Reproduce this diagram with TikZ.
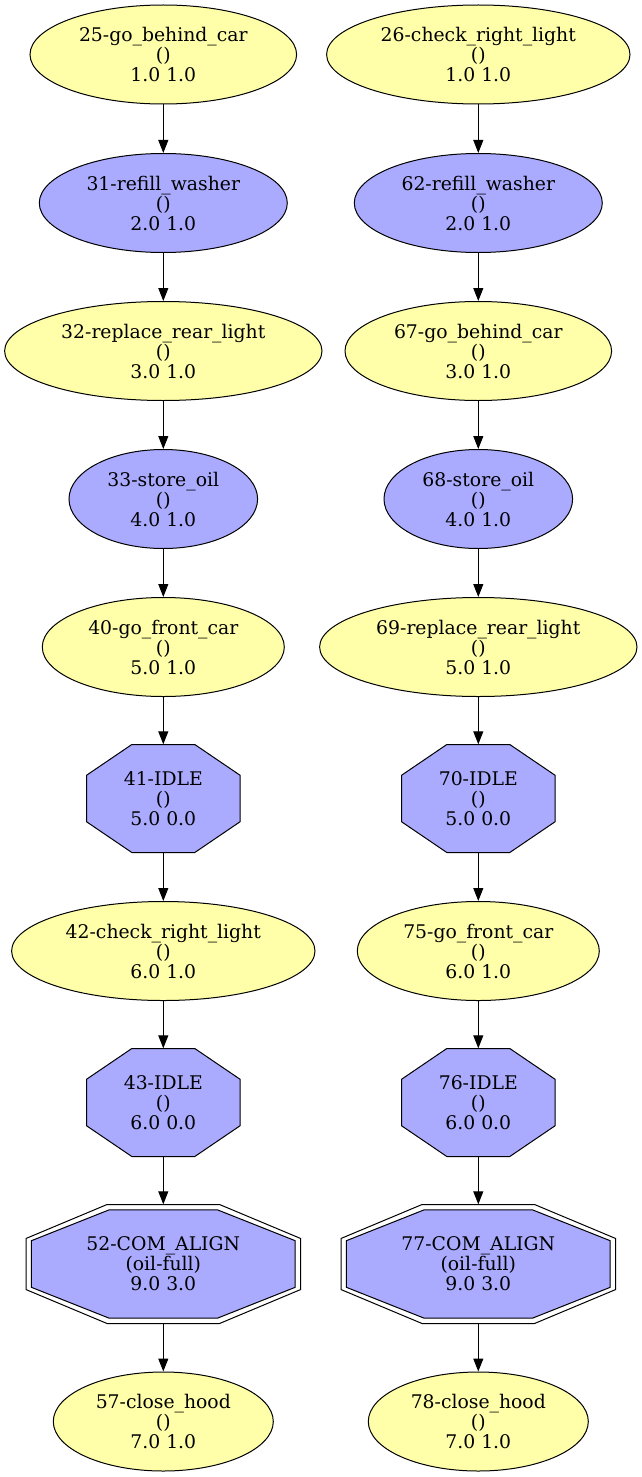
\documentclass[tikz,border=0pt]{standalone}
\usepackage{fontspec}
\setmainfont{DejaVu Serif}
\usetikzlibrary{shapes.geometric,arrows.meta}

\definecolor{actyellow}{HTML}{FFFFAA}
\definecolor{actblue}{HTML}{AAAAFF}

% octagon drawn at a centre: [style]{x,y}{half width}{half height}
\newcommand{\octshape}[4][]{%
  \draw[#1,shift={(#2)}] (-0.41*#3,-#4) -- (0.41*#3,-#4) -- (#3,-0.43*#4) -- (#3,0.43*#4)
    -- (0.41*#3,#4) -- (-0.41*#3,#4) -- (-#3,0.43*#4) -- (-#3,-0.43*#4) -- cycle;}

\tikzset{
  lbl/.style={inner sep=0pt,align=center,font=\fontsize{18.8}{20}\selectfont},
  act/.style={lbl,ellipse,draw,line width=1pt,minimum height=99pt},
  yact/.style={act,fill=actyellow},
  bact/.style={act,fill=actblue},
  octline/.style={line width=1pt},
  trans/.style={-{Triangle[length=13pt,width=10pt]},line width=1pt},
}

\begin{document}
\begin{tikzpicture}[x=1pt,y=-1pt]
\useasboundingbox (0,0) rectangle (642,1477);

% left column
\node[yact,minimum width=266.6pt] (n25) at (163.3,54.5) {25-go\_behind\_car\\()\\1.0 1.0};
\node[bact,minimum width=248pt] (n31) at (163.3,203) {31-refill\_washer\\()\\2.0 1.0};
\node[yact,minimum width=317.4pt] (n32) at (163.3,351) {32-replace\_rear\_light\\()\\3.0 1.0};
\node[bact,minimum width=188.6pt] (n33) at (163.3,499) {33-store\_oil\\()\\4.0 1.0};
\node[yact,minimum width=242pt] (n40) at (163.3,647) {40-go\_front\_car\\()\\5.0 1.0};
\octshape[octline,fill=actblue]{163.3,798.5}{76.8}{54}
\node[lbl,minimum width=153.6pt,minimum height=108pt] (n41) at (163.3,798.5) {41-IDLE\\()\\5.0 0.0};
\node[yact,minimum width=303.4pt] (n42) at (163.3,951) {42-check\_right\_light\\()\\6.0 1.0};
\octshape[octline,fill=actblue]{163.3,1102.5}{76.8}{54}
\node[lbl,minimum width=153.6pt,minimum height=108pt] (n43) at (163.3,1102.5) {43-IDLE\\()\\6.0 0.0};
\octshape[octline,fill=white]{163.3,1264}{137.2}{59.5}
\octshape[octline,fill=actblue]{163.3,1264}{131.9}{54.2}
\node[lbl,minimum width=274.4pt,minimum height=119pt] (n52) at (163.3,1264) {52-COM\_ALIGN\\(oil-full)\\9.0 3.0};
\node[yact,minimum width=220pt] (n57) at (163.3,1421.5) {57-close\_hood\\()\\7.0 1.0};

% right column
\node[yact,minimum width=303.4pt] (n26) at (478.3,54.5) {26-check\_right\_light\\()\\1.0 1.0};
\node[bact,minimum width=248pt] (n62) at (478.3,203) {62-refill\_washer\\()\\2.0 1.0};
\node[yact,minimum width=266.6pt] (n67) at (478.3,351) {67-go\_behind\_car\\()\\3.0 1.0};
\node[bact,minimum width=188.6pt] (n68) at (478.3,499) {68-store\_oil\\()\\4.0 1.0};
\node[yact,minimum width=317.4pt] (n69) at (478.3,647) {69-replace\_rear\_light\\()\\5.0 1.0};
\octshape[octline,fill=actblue]{478.3,798.5}{76.8}{54}
\node[lbl,minimum width=153.6pt,minimum height=108pt] (n70) at (478.3,798.5) {70-IDLE\\()\\5.0 0.0};
\node[yact,minimum width=242pt] (n75) at (478.3,951) {75-go\_front\_car\\()\\6.0 1.0};
\octshape[octline,fill=actblue]{478.3,1102.5}{76.8}{54}
\node[lbl,minimum width=153.6pt,minimum height=108pt] (n76) at (478.3,1102.5) {76-IDLE\\()\\6.0 0.0};
\octshape[octline,fill=white]{478.3,1264}{137.2}{59.5}
\octshape[octline,fill=actblue]{478.3,1264}{131.9}{54.2}
\node[lbl,minimum width=274.4pt,minimum height=119pt] (n77) at (478.3,1264) {77-COM\_ALIGN\\(oil-full)\\9.0 3.0};
\node[yact,minimum width=220pt] (n78) at (478.3,1421.5) {78-close\_hood\\()\\7.0 1.0};

% transitions
\foreach \a/\b in {n25/n31,n31/n32,n32/n33,n33/n40,n40/n41,n41/n42,n42/n43,n43/n52,n52/n57,
                   n26/n62,n62/n67,n67/n68,n68/n69,n69/n70,n70/n75,n75/n76,n76/n77,n77/n78}
  \draw[trans] (\a) -- (\b);

\end{tikzpicture}
\end{document}
